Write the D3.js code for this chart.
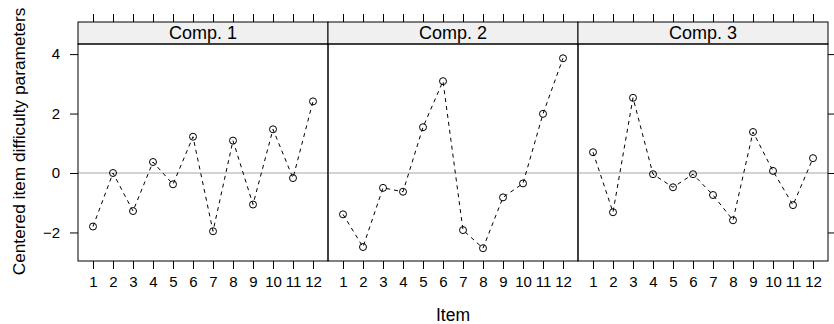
<!DOCTYPE html>
<html>
<head>
<meta charset="utf-8">
<script src="https://cdn.jsdelivr.net/npm/d3@7"></script>
<style>
  body { margin: 0; background: #fff; }
  svg { display: block; font-family: "Liberation Sans", Arial, Helvetica, sans-serif; }
</style>
</head>
<body>
<div id="chart"></div>
<script>
'use strict';

var items = [1, 2, 3, 4, 5, 6, 7, 8, 9, 10, 11, 12];
var panels = ['Comp. 1', 'Comp. 2', 'Comp. 3'];
var comp1 = [-1.80, 0.00, -1.28, 0.37, -0.38, 1.22, -1.96, 1.09, -1.06, 1.47, -0.17, 2.41];
var comp2 = [-1.39, -2.49, -0.50, -0.63, 1.54, 3.09, -1.92, -2.53, -0.82, -0.35, 1.99, 3.86];
var comp3 = [0.70, -1.32, 2.53, -0.04, -0.48, -0.04, -0.74, -1.59, 1.38, 0.07, -1.08, 0.50];
var yTicks = [-2, 0, 2, 4];
var xLabel = 'Item';
var yLabel = 'Centered item difficulty parameters';

var series = [comp1, comp2, comp3];

var stage = { width: 834, height: 324 };
var frame = { left: 78, top: 44, panelWidth: 250, bottom: 261, stripTop: 22 };
var tickLen = 8;
var fontFamily = '"Liberation Sans", Arial, Helvetica, sans-serif';

var svg = d3.select('#chart').append('svg')
    .attr('width', stage.width)
    .attr('height', stage.height);

var x = d3.scaleLinear().domain([0.25, 12.75]).range([0, frame.panelWidth]);
var y = d3.scaleLinear().domain([-2.96, 4.34]).range([frame.bottom, frame.top]);

var line = d3.line()
    .x(function(d, i) { return x(items[i]); })
    .y(function(d) { return y(d); });

// lattice look for d3 axes
var styleAxis = function(sel) {
    sel.attr('font-family', fontFamily).attr('font-size', 15);
    sel.select('.domain').remove();
    sel.selectAll('.tick line').attr('stroke', '#000');
    sel.selectAll('.tick text').attr('fill', '#000');
};

panels.forEach(function(name, p) {
    var left = frame.left + p * frame.panelWidth;
    var g = svg.append('g').attr('transform', 'translate(' + left + ',0)');

    // reference line at zero
    g.append('line')
        .attr('x1', 0).attr('x2', frame.panelWidth)
        .attr('y1', y(0)).attr('y2', y(0))
        .attr('stroke', '#a6a6a6').attr('stroke-width', 1);

    g.append('path')
        .datum(series[p])
        .attr('d', line)
        .attr('fill', 'none')
        .attr('stroke', '#000')
        .attr('stroke-width', 1)
        .attr('stroke-dasharray', '4,4');

    g.selectAll('circle').data(series[p]).enter()
        .append('circle')
        .attr('cx', function(d, i) { return x(items[i]); })
        .attr('cy', function(d) { return y(d); })
        .attr('r', 3.5)
        .attr('fill', 'none')
        .attr('stroke', '#000')
        .attr('stroke-width', 1);

    // strip
    g.append('rect')
        .attr('x', 0).attr('y', frame.stripTop)
        .attr('width', frame.panelWidth).attr('height', frame.top - frame.stripTop)
        .attr('fill', '#f0f0f0')
        .attr('stroke', '#000');
    g.append('text')
        .attr('x', frame.panelWidth / 2)
        .attr('y', frame.top - 5)
        .attr('text-anchor', 'middle')
        .attr('font-size', 18)
        .text(name);

    // panel border
    g.append('rect')
        .attr('x', 0).attr('y', frame.top)
        .attr('width', frame.panelWidth).attr('height', frame.bottom - frame.top)
        .attr('fill', 'none')
        .attr('stroke', '#000');

    // bottom axis with labels
    g.append('g')
        .attr('transform', 'translate(0,' + frame.bottom + ')')
        .call(d3.axisBottom(x).tickValues(items).tickSizeInner(tickLen).tickSizeOuter(0).tickPadding(7))
        .call(styleAxis);

    // top axis ticks only
    g.append('g')
        .attr('transform', 'translate(0,' + frame.stripTop + ')')
        .call(d3.axisTop(x).tickValues(items).tickSizeInner(tickLen).tickSizeOuter(0).tickFormat(''))
        .call(styleAxis);
});

svg.append('g')
    .attr('transform', 'translate(' + frame.left + ',0)')
    .call(d3.axisLeft(y).tickValues(yTicks).tickSizeInner(tickLen).tickSizeOuter(0).tickPadding(10)
        .tickFormat(function(d) { return d < 0 ? '\u2212' + Math.abs(d) : d; }))
    .call(styleAxis);

svg.append('g')
    .attr('transform', 'translate(' + (frame.left + 3 * frame.panelWidth) + ',0)')
    .call(d3.axisRight(y).tickValues(yTicks).tickSizeInner(tickLen).tickSizeOuter(0).tickFormat(''))
    .call(styleAxis);

svg.append('text')
    .attr('x', frame.left + 1.5 * frame.panelWidth)
    .attr('y', 321)
    .attr('text-anchor', 'middle')
    .attr('font-size', 17.5)
    .text(xLabel);

svg.append('text')
    .attr('transform', 'translate(25,' + ((frame.stripTop + frame.bottom) / 2) + ') rotate(-90)')
    .attr('text-anchor', 'middle')
    .attr('font-size', 17.3)
    .text(yLabel);
</script>
</body>
</html>
